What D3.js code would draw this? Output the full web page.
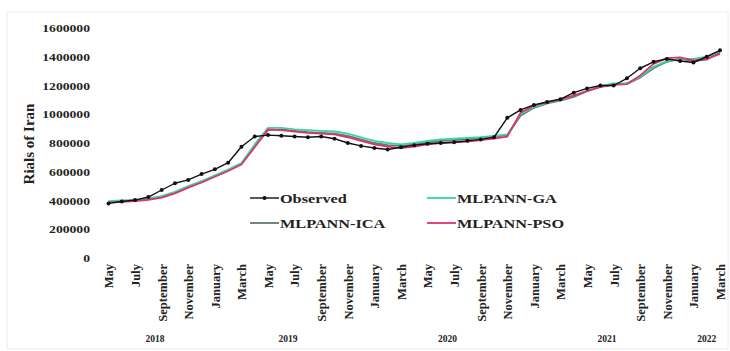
<!DOCTYPE html>
<html><head><meta charset="utf-8">
<script src="https://cdn.jsdelivr.net/npm/d3@7/dist/d3.min.js"></script>
<style>
body{margin:0;background:#fff}
svg{display:block}
text{font-family:"Liberation Serif","Times New Roman",serif;font-weight:bold;fill:#222}
</style>
</head><body>
<svg id="c" width="730" height="351"></svg>
<script>
const categories = [
 "2018-05","2018-06","2018-07","2018-08","2018-09","2018-10","2018-11","2018-12",
 "2019-01","2019-02","2019-03","2019-04","2019-05","2019-06","2019-07","2019-08","2019-09","2019-10","2019-11","2019-12",
 "2020-01","2020-02","2020-03","2020-04","2020-05","2020-06","2020-07","2020-08","2020-09","2020-10","2020-11","2020-12",
 "2021-01","2021-02","2021-03","2021-04","2021-05","2021-06","2021-07","2021-08","2021-09","2021-10","2021-11","2021-12",
 "2022-01","2022-02","2022-03"];
const tickLabels = ["May","July","September","November","January","March",
 "May","July","September","November","January","March",
 "May","July","September","November","January","March",
 "May","July","September","November","January","March"];
const years = ["2018","2019","2020","2021","2022"];
const yTicks = [0,200000,400000,600000,800000,1000000,1200000,1400000,1600000];

const observed = [380000,393000,403000,424000,473000,520000,543000,584000,617000,663000,774000,845000,855000,850000,845000,840000,845000,830000,800000,780000,765000,755000,770000,785000,795000,800000,805000,815000,825000,840000,975000,1030000,1065000,1085000,1105000,1150000,1180000,1200000,1200000,1250000,1320000,1365000,1385000,1370000,1360000,1400000,1445000];
const mlpGA = [395000,400000,405000,415000,430000,460000,500000,535000,575000,615000,660000,790000,905000,905000,895000,890000,885000,880000,865000,840000,815000,800000,790000,800000,815000,825000,830000,835000,840000,850000,860000,1000000,1050000,1080000,1100000,1130000,1165000,1195000,1215000,1215000,1260000,1330000,1370000,1385000,1385000,1400000,1440000];
const mlpICA = [390000,395000,400000,410000,425000,455000,495000,530000,570000,610000,655000,780000,890000,895000,885000,875000,870000,865000,850000,825000,800000,785000,780000,790000,805000,815000,820000,825000,835000,845000,855000,990000,1045000,1075000,1095000,1120000,1160000,1190000,1210000,1210000,1255000,1320000,1365000,1385000,1370000,1380000,1430000];
const mlpPSO = [385000,390000,395000,405000,420000,450000,490000,525000,565000,605000,650000,770000,895000,890000,880000,870000,865000,860000,840000,815000,790000,775000,765000,775000,790000,800000,805000,810000,820000,830000,845000,1010000,1060000,1085000,1105000,1130000,1160000,1190000,1205000,1210000,1270000,1350000,1390000,1395000,1375000,1385000,1420000];

const seriesNames = ["Observed","MLPANN-GA","MLPANN-ICA","MLPANN-PSO"];
const colors = {"Observed":"#111111","MLPANN-GA":"#36d3a9","MLPANN-ICA":"#5d7d6c","MLPANN-PSO":"#e4306a"};

const svg = d3.select("#c");
svg.append("rect").attr("x",7).attr("y",12).attr("width",721).attr("height",337)
  .attr("fill","none").attr("stroke","#ececec");

const x = d3.scalePoint().domain(categories).range([108.5,720]);
const y = d3.scaleLinear().domain([0,1600000]).range([258,28]);

// Y axis
const ya = svg.append("g").attr("transform","translate(90,0)")
  .call(d3.axisLeft(y).tickValues(yTicks).tickSize(0).tickPadding(0).tickFormat(d3.format("d")));
ya.select(".domain").remove();
ya.selectAll("text").attr("x",0).attr("dy","0.35em")
  .attr("transform","scale(1.3,1)")
  .style("font-family",'"Liberation Serif",serif').style("font-weight","bold")
  .style("font-size","10.5px").attr("fill","#222");

// X axis
const xTickVals = categories.filter((d,i)=>i%2===0);
const xa = svg.append("g").attr("transform","translate(0,258)")
  .call(d3.axisBottom(x).tickValues(xTickVals).tickSize(0)
    .tickFormat((d,i)=>tickLabels[i]));
xa.select(".domain").remove();
xa.selectAll("text").attr("x",-6).attr("y",0).attr("dy","0.35em")
  .attr("transform","rotate(-90)").attr("text-anchor","end")
  .style("font-family",'"Liberation Serif",serif').style("font-weight","bold")
  .style("font-size","12.5px").attr("fill","#222");

// Year labels
years.forEach(yr=>{
  const xs = categories.filter(c=>c.startsWith(yr)).map(c=>x(c));
  svg.append("text").attr("x",d3.mean(xs)).attr("y",339).attr("dy","0.35em")
    .attr("text-anchor","middle").style("font-size","9.5px").text(yr);
});

// Y title
svg.append("text").attr("transform","translate(29,144) rotate(-90)")
  .attr("text-anchor","middle").attr("dy","0.35em").style("font-size","15px").text("Rials of Iran");

// Lines
const line = d3.line().x((d,i)=>x(categories[i])).y(d=>y(d));
const data = {"Observed":observed,"MLPANN-GA":mlpGA,"MLPANN-ICA":mlpICA,"MLPANN-PSO":mlpPSO};
["MLPANN-ICA","MLPANN-GA","MLPANN-PSO","Observed"].forEach(n=>{
  svg.append("path").datum(data[n]).attr("d",line).attr("fill","none")
    .attr("stroke",colors[n]).attr("stroke-width",n==="Observed"?1.4:1.8)
    .attr("stroke-linejoin","round");
});
svg.append("g").selectAll("circle").data(observed).join("circle")
  .attr("cx",(d,i)=>x(categories[i])).attr("cy",d=>y(d)).attr("r",2).attr("fill","#111");

// Legend
const legendPos = {"Observed":[250,198],"MLPANN-GA":[427,198],"MLPANN-ICA":[250,223],"MLPANN-PSO":[427,223]};
seriesNames.forEach(n=>{
  const [lx,ly] = legendPos[n];
  const g = svg.append("g").attr("transform",`translate(${lx},${ly})`);
  g.append("line").attr("x1",0).attr("x2",29).attr("y1",0).attr("y2",0)
    .attr("stroke",colors[n]).attr("stroke-width",n==="Observed"?1.4:1.8);
  if(n==="Observed") g.append("circle").attr("cx",14.5).attr("cy",0).attr("r",2).attr("fill","#111");
  g.append("text").attr("x",30).attr("y",0).attr("dy","0.35em")
    .attr("transform","translate(30,0) scale(1.25,1) translate(-30,0)")
    .style("font-size","13px").text(n);
});
</script>
</body></html>
